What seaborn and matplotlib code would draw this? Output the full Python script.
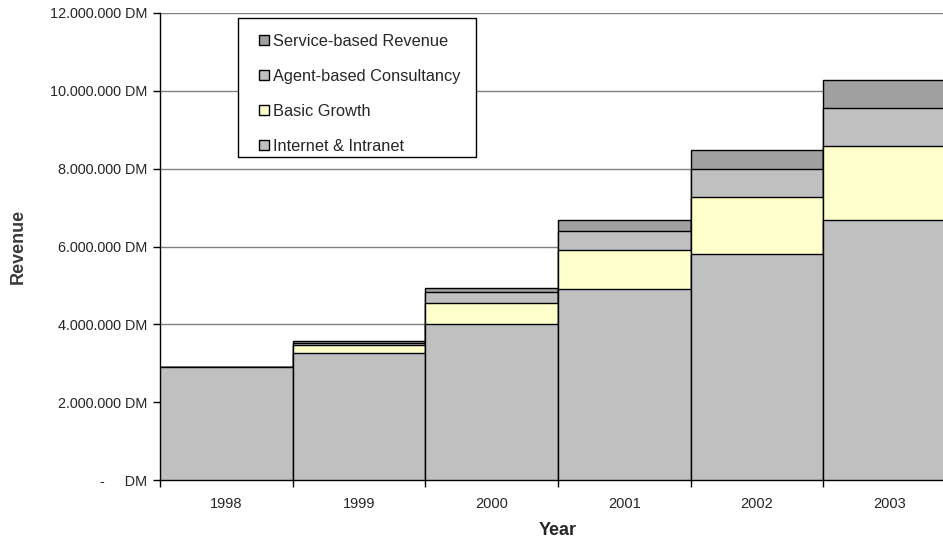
import matplotlib
matplotlib.use("Agg")
import matplotlib.pyplot as plt
import matplotlib.ticker as mticker
from matplotlib.patches import Patch, Rectangle
import numpy as np
import pandas as pd
import seaborn as sns

years = ["1998", "1999", "2000", "2001", "2002", "2003"]
internet = [2.90e6, 3.27e6, 4.00e6, 4.90e6, 5.82e6, 6.69e6]
basic = [0.0, 0.21e6, 0.55e6, 1.00e6, 1.44e6, 1.90e6]
agent = [0.0, 0.05e6, 0.29e6, 0.51e6, 0.72e6, 0.96e6]
service = [0.0, 0.03e6, 0.10e6, 0.27e6, 0.50e6, 0.72e6]

series_names = ["Internet & Intranet", "Basic Growth", "Agent-based Consultancy", "Service-based Revenue"]
colors = ["#C0C0C0", "#FFFFCC", "#C0C0C0", "#A0A0A0"]

sns.set_theme(style="white")
plt.rcParams["font.family"] = ["Liberation Sans", "DejaVu Sans"]

df = pd.DataFrame({"Year": years, "internet": internet, "basic": basic,
                   "agent": agent, "service": service})
df["c1"] = df["internet"]
df["c2"] = df["c1"] + df["basic"]
df["c3"] = df["c2"] + df["agent"]
df["c4"] = df["c3"] + df["service"]

W, H = 943, 544
fig = plt.figure(figsize=(W/100, H/100), dpi=100)
ax = fig.add_axes([160/W, 1-480/H, 796/W, 467/H])

for col, c in zip(["c4", "c3", "c2", "c1"], colors[::-1]):
    sns.barplot(data=df, x="Year", y=col, color=c, width=1.0, edgecolor="black",
                linewidth=1.0, ax=ax, saturation=1, zorder=3)

ax.set_xlim(-0.5, 5.5)
ax.set_ylim(0, 12e6)
ax.yaxis.set_major_locator(mticker.MultipleLocator(2e6))

def fmt(v, pos):
    if v == 0:
        return "-     DM"
    return f"{int(v):,}".replace(",", ".") + " DM"

ax.yaxis.set_major_formatter(mticker.FuncFormatter(fmt))
ax.grid(axis="y", color="#808080", linewidth=1.0, zorder=0)
ax.set_axisbelow(True)

for s in ["top", "right"]:
    ax.spines[s].set_visible(False)
for s in ["left", "bottom"]:
    ax.spines[s].set_color("black")
    ax.spines[s].set_linewidth(1.0)

ax.tick_params(axis="y", which="major", length=5, width=1, color="black",
               labelsize=10.4, pad=4, left=True, direction="out")
ax.tick_params(axis="x", which="major", length=0, labelsize=10.5, pad=12)
ax.set_xticks(np.arange(-0.5, 6.0, 1.0), minor=True)
ax.tick_params(axis="x", which="minor", length=5, width=1, color="black",
               bottom=True, direction="out")

ax.set_xlabel("Year", fontsize=13, fontweight="bold", labelpad=8)
ax.set_ylabel("Revenue", fontsize=13, fontweight="bold", labelpad=17, color="#3a3a3a")

# legend frame
fig.patches.append(Rectangle((238/W, 1-157/H), (476-238)/W, (157-18)/H,
                             transform=fig.transFigure, facecolor="white",
                             edgecolor="black", linewidth=1.0, zorder=5))
handles = [Patch(facecolor=colors[i], edgecolor="black", linewidth=1.0,
                 label=series_names[i]) for i in [3, 2, 1, 0]]
leg = fig.legend(handles=handles, loc="center left",
                 bbox_to_anchor=(259/W, 1-94/H), frameon=False,
                 fontsize=11.8, handlelength=0.6, handleheight=0.6,
                 handletextpad=0.25, labelspacing=1.22, borderpad=0, borderaxespad=0)
leg.set_zorder(6)

fig.savefig("out.png", dpi=100)
